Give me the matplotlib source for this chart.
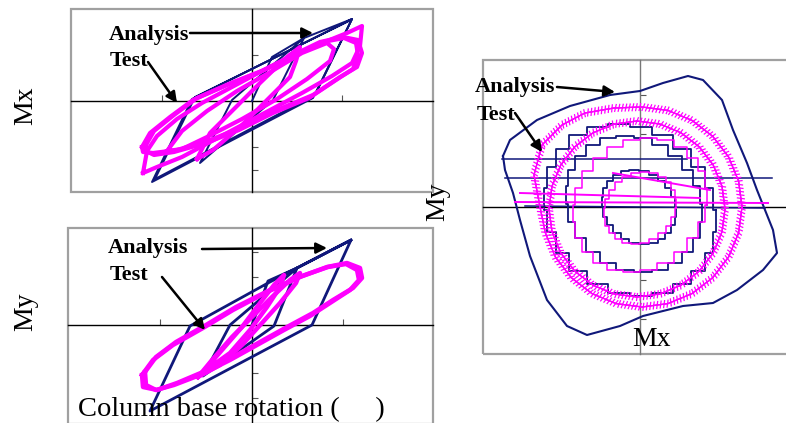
import matplotlib
matplotlib.use('Agg')
import matplotlib.pyplot as plt
import matplotlib.patheffects as pe
from matplotlib.patches import Rectangle

W, H = 786, 423
NAVY = '#10187a'
MAG = '#ff00ff'
FRAME = '#a0a0a0'
SERIF = ['Liberation Serif', 'DejaVu Serif']

# ---------------- top-left panel: Mx vs column base rotation ----------------
ana_top_x = [0, 20, 52, 21, -52, -20, 52, 100, 61, -100, -60, 100, 63, -97, -57, 97]
ana_top_y = [0, 44, 63, 1, -62, 1, 63, 82, 3, -81, 2, 82, 6, -78, 4, 80]

test_top_x = [
    [-109, -105, -95, -75, -50, -20, 10, 40, 70, 95, 110, 108, 100, 80, 50, 20, -10, -40, -70, -95, -109],
    [-110, -102, -82, -59, -25, 8, 41, 68, 91, 106, 110, 105, 88, 61, 25, -9, -42, -75, -99, -109, -110],
    [-106, -98, -78, -55, -21, 12, 45, 71, 92, 104, 106, 101, 84, 57, 21, -13, -46, -78, -98, -106, -106],
    [-85, -70, -45, -15, 20, 50, 75, 82, 78, 55, 25, -10, -45, -70, -85],
    [-55, -42, -19, 8, 35, 48, 44, 38, 15, -12, -39, -55],
]
test_top_y = [
    [-72, -50, -35, -18, -2, 14, 30, 45, 58, 68, 75, 55, 38, 25, 8, -8, -24, -40, -56, -66, -72],
    [-46, -32, -16, 1, 16, 29, 46, 59, 64, 61, 48, 34, 24, 6, -9, -26, -39, -49, -52, -51, -46],
    [-44, -30, -14, 3, 18, 31, 47, 59, 63, 58, 46, 32, 21, 3, -12, -29, -42, -51, -54, -50, -44],
    [-50, -30, -10, 10, 30, 48, 58, 52, 40, 22, 2, -18, -36, -48, -50],
    [-58, -32, -9, 18, 44, 54, 40, 24, 1, -26, -49, -58],
]

# ---------------- bottom-left panel: My vs column base rotation ----------------
ana_bot_x = [0, 16, 45, 22, -49, -22, 45, 99, 60, -102, -62, 16, 99]
ana_bot_y = [0, 44, 57, -1, -51, 0, 57, 85, 0, -86, -1, 42, 85]

test_bot_x = [
    [-110, -99, -79, -49, -19, 15, 48, 75, 95, 108, 110, 101, 81, 61, 35, 8, -19, -49, -75, -95, -109, -110],
    [-107, -96, -76, -46, -16, 18, 50, 76, 94, 105, 107, 98, 78, 58, 32, 5, -22, -52, -78, -96, -106, -107],
    [-54, -40, -20, 0, 20, 38, 48, 44, 28, 10, -10, -32, -54],
    [-50, -30, -10, 8, 22, 32, 28, 15, -2, -22, -50],
]
test_bot_y = [
    [-50, -35, -20, -3, 15, 33, 48, 58, 62, 57, 47, 37, 25, 12, -2, -17, -32, -47, -58, -65, -62, -50],
    [-47, -32, -17, 0, 18, 35, 49, 58, 61, 55, 45, 35, 22, 9, -5, -20, -35, -50, -60, -65, -60, -47],
    [-52, -35, -12, 8, 28, 45, 52, 42, 22, 2, -20, -40, -52],
    [-48, -25, -2, 22, 40, 50, 38, 18, -5, -28, -48],
]

# ---------------- right panel: My vs Mx (biaxial) ----------------
ana_outer_x = [-137, -130, -103, -70, -30, 0, 23, 48, 63, 82, 93, 107, 117, 125, 133, 137, 123, 97, 73, 43,
               3, -20, -53, -73, -93, -110, -120, -127, -135, -137]
ana_outer_y = [51, 67, 87, 101, 112, 116, 124, 131, 127, 107, 77, 44, 17, -3, -23, -46, -63, -83, -96, -99,
               -109, -119, -128, -119, -93, -49, -13, 14, 37, 51]

ana_rings_x = [
    [76, 73, 64.5, 51, 33, 12, -10, -32, -53, -71, -84.5, -93, -96, -93, -84.5, -71, -53, -32, -10, 12, 33, 51, 64.5, 73, 76],
    [62, 59.7, 52.9, 42, 28, 11.6, -6, -23.6, -40, -54, -64.9, -71.7, -74, -71.7, -64.9, -54, -40, -23.6, -6, 11.6, 28, 42, 52.9, 59.7, 62],
    [36, 34.7, 31, 25.2, 17.5, 8.6, -1, -10.6, -19.5, -27.2, -33, -36.7, -38, -36.7, -33, -27.2, -19.5, -10.6, -1, 8.6, 17.5, 25.2, 31, 34.7, 36],
]
ana_rings_y = [
    [-3, 19, 40, 58, 71.5, 80, 83, 80, 71.5, 58, 40, 19, -3, -25, -46, -64, -77.5, -86, -89, -86, -77.5, -64, -46, -25, -3],
    [3, 20.6, 37, 51, 61.9, 68.7, 71, 68.7, 61.9, 51, 37, 20.6, 3, -14.6, -31, -45, -55.9, -62.7, -65, -62.7, -55.9, -45, -31, -14.6, 3],
    [0, 9.6, 18.5, 26.2, 32, 35.7, 37, 35.7, 32, 26.2, 18.5, 9.6, 0, -9.6, -18.5, -26.2, -32, -35.7, -37, -35.7, -32, -26.2, -18.5, -9.6, 0],
]
ana_lines_x = [[-138, 47], [-135, 132], [-115, 125]]
ana_lines_y = [[48, 48], [29, 29], [1, -1]]

test_rings_x = [
    [102, 98.6, 88.6, 72.7, 52, 27.9, 2, -26, -55, -78, -98, -106, -100, -94.6, -84.6, -68.7, -48, -23.9, 2, 27.9, 52, 72.7, 88.6, 98.6, 102],
    [85, 82, 73.2, 59.2, 41, 19.8, -3, -25.8, -47, -65.2, -79.2, -88, -91, -88, -79.2, -65.2, -47, -25.8, -3, 19.8, 41, 59.2, 73.2, 82, 85],
]
test_rings_y = [
    [0, 25.9, 50, 70.7, 86.6, 96.6, 100, 99, 94, 82, 62, 32, 0, -25.9, -50, -70.7, -86.6, -96.6, -100, -96.6, -86.6, -70.7, -50, -25.9, 0],
    [-2, 20.8, 42, 60.2, 74.2, 83, 86, 83, 74.2, 60.2, 42, 20.8, -2, -24.8, -46, -64.2, -78.2, -87, -90, -87, -78.2, -64.2, -46, -24.8, -2],
]
test_steps_x = [
    [67, 64.7, 58, 47.4, 33.5, 17.3, 0, -17.3, -33.5, -47.4, -58, -64.7, -67, -64.7, -58, -47.4, -33.5, -17.3, 0, 17.3, 33.5, 47.4, 58, 64.7, 67],
    [36, 34.8, 31.2, 25.5, 18, 9.3, 0, -9.3, -18, -25.5, -31.2, -34.8, -36, -34.8, -31.2, -25.5, -18, -9.3, 0, 9.3, 18, 25.5, 31.2, 34.8, 36],
]
test_steps_y = [
    [2, 19.3, 35.5, 49.4, 60, 66.7, 69, 66.7, 60, 49.4, 35.5, 19.3, 2, -15.3, -31.5, -45.4, -56, -62.7, -65, -62.7, -56, -45.4, -31.5, -15.3, 2],
    [-1, 8.3, 17, 24.5, 30.2, 33.8, 35, 33.8, 30.2, 24.5, 17, 8.3, -1, -10.3, -19, -26.5, -32.2, -35.8, -37, -35.8, -32.2, -26.5, -19, -10.3, -1],
]
test_lines_x = [[-125, 128], [-27, 70], [-120, 60]]
test_lines_y = [[5, 4], [34, 17], [14, 9]]

fig = plt.figure(figsize=(W / 100, H / 100), dpi=100)


def add_ax(l, t, r, b, xlim, ylim, xt, yt, vcol='black'):
    ax = fig.add_axes([l / W, 1 - b / H, (r - l) / W, (b - t) / H])
    ax.set_xlim(*xlim)
    ax.set_ylim(*ylim)
    for s in ('top', 'right'):
        ax.spines[s].set_visible(False)
    ax.spines['left'].set_position(('data', 0))
    ax.spines['bottom'].set_position(('data', 0))
    ax.spines['left'].set_color(vcol)
    ax.spines['bottom'].set_color('black')
    ax.spines['left'].set_linewidth(1.0)
    ax.spines['bottom'].set_linewidth(1.0)
    ax.set_xticks(xt)
    ax.set_yticks(yt)
    ax.tick_params(direction='in', length=4, width=0.8, colors='#555555',
                   labelleft=False, labelbottom=False)
    ax.add_patch(Rectangle((0, 0), 1, 1, transform=ax.transAxes, fill=False,
                           ec=FRAME, lw=1.6, clip_on=False, zorder=1))
    ax.set_facecolor('none')
    return ax


def label(ax, x, y, s):
    ax.text(x, y, s, fontsize=16, fontweight='bold', family=SERIF, va='center',
            ha='left', clip_on=False, zorder=6)


def arrow(ax, tail, head):
    ax.annotate('', xy=head, xytext=tail, annotation_clip=False, zorder=6,
                arrowprops=dict(arrowstyle='-|>', lw=1.8, color='black',
                                mutation_scale=16, shrinkA=0, shrinkB=0))


# top-left
ax1 = add_ax(71, 9, 433, 192, (-181, 181), (-91, 92), [-90, 90], [-69, -46, 46, 69])
ax1.plot(ana_top_x, ana_top_y, color=NAVY, lw=1.4, zorder=3)
for xs, ys in zip(test_top_x, test_top_y):
    ax1.plot(xs, ys, color=MAG, lw=3.0, zorder=4, solid_joinstyle='round')
label(ax1, -143, 66, 'Analysis')
label(ax1, -142, 40, 'Test')
arrow(ax1, (-62, 68), (61, 68))
arrow(ax1, (-104, 39), (-75, -2))

# bottom-left
ax2 = add_ax(68, 228, 433, 424, (-184, 181), (-99, 97), [-92, 91], [-73, -48, 48, 73])
ax2.plot(ana_bot_x, ana_bot_y, color=NAVY, lw=2.0, zorder=3)
for xs, ys in zip(test_bot_x, test_bot_y):
    ax2.plot(xs, ys, color=MAG, lw=3.2, zorder=4, solid_joinstyle='round')
label(ax2, -144, 77, 'Analysis')
label(ax2, -142, 50, 'Test')
arrow(ax2, (-50, 76), (75, 77))
arrow(ax2, (-90, 48), (-47, -5))

# right
ax3 = add_ax(483, 60, 797, 354, (-157, 157), (-147, 147), [-73, 73], [-112, -73, 73, 112],
             vcol='#777777')
ax3.plot(ana_outer_x, ana_outer_y, color=NAVY, lw=1.5, zorder=3)
for xs, ys in zip(ana_rings_x, ana_rings_y):
    ax3.plot(xs, ys, color=NAVY, lw=1.3, drawstyle='steps-post', zorder=3)
for xs, ys in zip(ana_lines_x, ana_lines_y):
    ax3.plot(xs, ys, color=NAVY, lw=1.1, zorder=3)
zig = [pe.withTickedStroke(spacing=2.5, angle=75, length=1.0),
       pe.withTickedStroke(spacing=2.5, angle=-105, length=1.0), pe.Normal()]
for xs, ys in zip(test_rings_x, test_rings_y):
    ax3.plot(xs, ys, color=MAG, lw=0.9, zorder=4, path_effects=zig)
for xs, ys in zip(test_steps_x, test_steps_y):
    ax3.plot(xs, ys, color=MAG, lw=1.1, drawstyle='steps-pre', zorder=4)
for xs, ys in zip(test_lines_x, test_lines_y):
    ax3.plot(xs, ys, color=MAG, lw=1.4, zorder=4)
label(ax3, -165, 120, 'Analysis')
label(ax3, -163, 92, 'Test')
arrow(ax3, (-83, 120), (-25, 115))
arrow(ax3, (-125, 94), (-98, 55))

# axis labels
fig.text(26 / W, 1 - 106 / H, 'Mx', rotation=90, fontsize=20, family=SERIF, ha='center', va='center')
fig.text(26 / W, 1 - 312 / H, 'My', rotation=90, fontsize=20, family=SERIF, ha='center', va='center')
fig.text(438 / W, 1 - 202 / H, 'My', rotation=90, fontsize=20, family=SERIF, ha='center', va='center')
fig.text(651 / W, 1 - 339 / H, 'Mx', fontsize=20, family=SERIF, ha='center', va='center', zorder=7)
fig.text(78 / W, 1 - 416 / H, 'Column base rotation (     )', fontsize=20.5, family=SERIF,
         ha='left', va='baseline', zorder=7)

fig.savefig('out.png', dpi=100)
